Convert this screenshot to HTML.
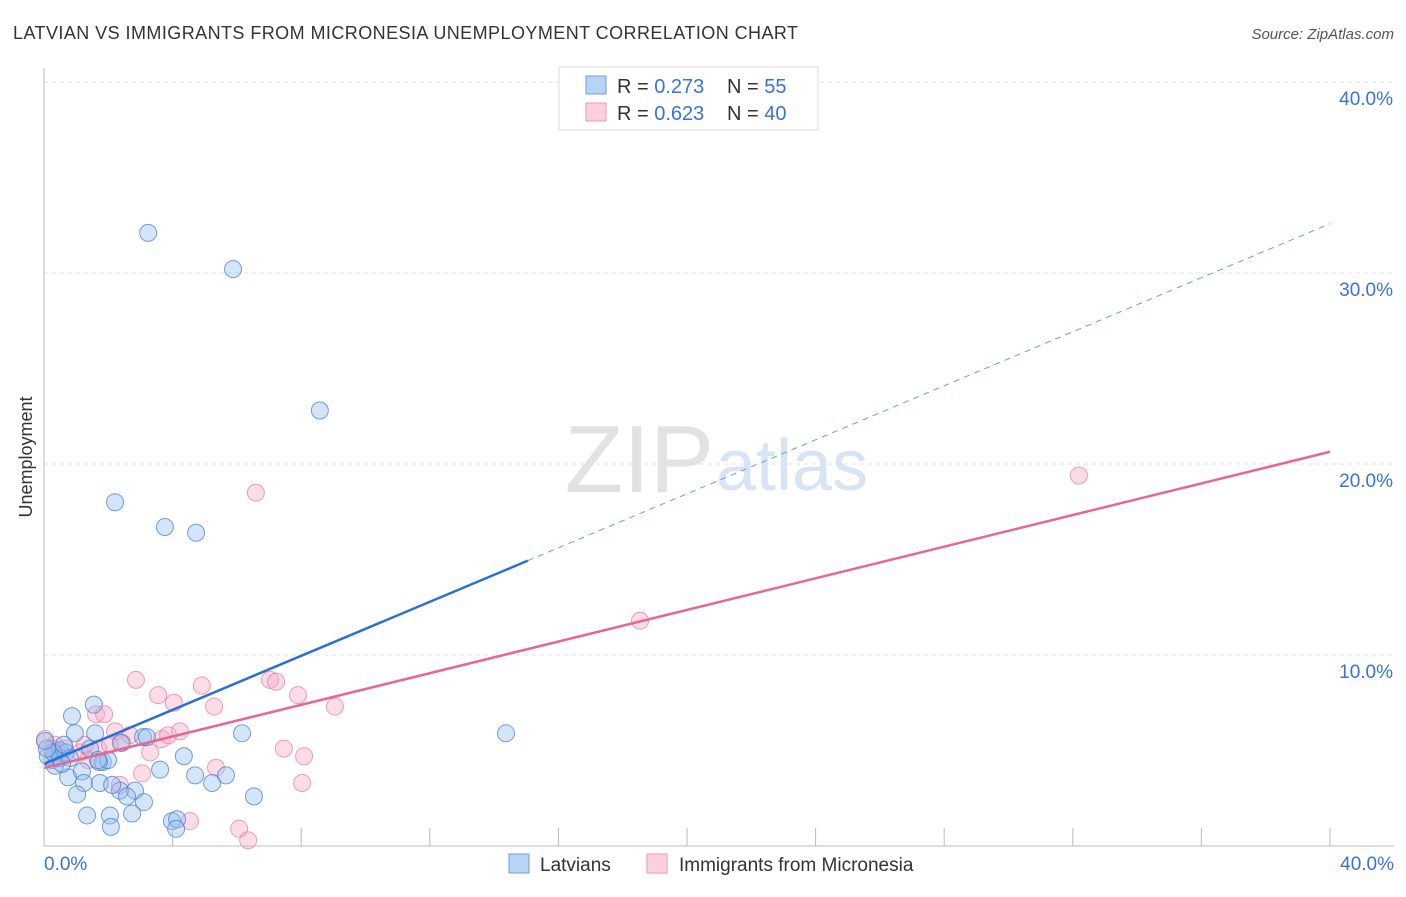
<!DOCTYPE html>
<html><head><meta charset="utf-8"><style>
body{margin:0;background:#fff;font-family:"Liberation Sans",sans-serif;}
svg text{font-family:"Liberation Sans",sans-serif;}
</style></head><body>
<svg width="1406" height="892" xmlns="http://www.w3.org/2000/svg">
<text x="13" y="39" font-size="18" fill="#333" textLength="785">LATVIAN VS IMMIGRANTS FROM MICRONESIA UNEMPLOYMENT CORRELATION CHART</text>
<text x="1394" y="39" font-size="15" fill="#555" font-style="italic" text-anchor="end">Source: ZipAtlas.com</text>
<text x="714" y="492" font-size="96" fill="#e2e2e2" text-anchor="end" font-family="Liberation Serif">ZIP</text>
<text x="716" y="490" font-size="72" fill="#d6e4f5">atlas</text>
<g id="grid"></g>
<g id="marks"></g>
<g id="axes"></g>
<text x="32" y="457" font-size="18" fill="#333" text-anchor="middle" transform="rotate(-90 32 457)">Unemployment</text>
<g>
<rect x="559" y="67" width="259" height="63" fill="#fff" stroke="#ddd"/>
<rect x="586" y="76" width="20" height="18" fill="#b8d4f5" stroke="#6a9fe0"/>
<rect x="586" y="103" width="20" height="18" fill="#fcd0dc" stroke="#ee9ab3"/>
<text x="617" y="93" font-size="20" fill="#333">R = <tspan fill="#3a72d8">0.273</tspan></text>
<text x="727" y="93" font-size="20" fill="#333">N = <tspan fill="#3a72d8">55</tspan></text>
<text x="617" y="120" font-size="20" fill="#333">R = <tspan fill="#3a72d8">0.623</tspan></text>
<text x="727" y="120" font-size="20" fill="#333">N = <tspan fill="#3a72d8">40</tspan></text>
</g>
<g>
<rect x="509" y="854" width="20" height="19" fill="#b8d4f5" stroke="#6a9fe0"/>
<text x="540" y="871" font-size="19" fill="#333">Latvians</text>
<rect x="647" y="854" width="20" height="19" fill="#fcd0dc" stroke="#ee9ab3"/>
<text x="679" y="871" font-size="19" fill="#333">Immigrants from Micronesia</text>
</g>
</svg>
<script>
const yTicks=[10,20,30,40];
const yTickLabels=["10.0%","20.0%","30.0%","40.0%"];
const xTickLabels=["0.0%","40.0%"];
const latX=[3.24,5.88,8.58,2.21,3.76,4.73,14.37,6.16,6.53,0.87,1.55,0.96,1.59,0.50,0.25,0.12,0.34,0.75,1.18,1.24,1.74,1.83,1.99,2.39,3.08,3.20,3.61,4.35,4.70,5.23,5.66,2.83,2.36,2.58,3.11,1.03,1.34,2.05,2.74,2.08,3.98,4.14,4.11,0.50,0.68,0.81,1.43,1.71,0.28,0.09,0.03,0.56,0.62,2.12,1.68];
const latY=[32.1,30.2,22.8,18.0,16.7,16.4,5.9,5.9,2.6,6.8,7.4,5.9,5.9,5.0,4.5,4.7,4.2,3.6,3.9,3.3,3.3,4.4,4.5,5.4,5.7,5.7,4.0,4.7,3.7,3.3,3.7,2.9,2.9,2.6,2.3,2.7,1.6,1.6,1.7,1.0,1.3,1.4,0.9,4.6,4.9,4.6,5.1,4.4,4.9,5.1,5.5,4.3,5.3,3.2,4.5];
const micX=[32.19,6.59,18.54,2.86,3.55,4.04,4.91,5.29,7.03,7.22,7.90,9.05,1.62,1.87,2.21,2.67,2.43,3.30,3.67,3.86,4.23,3.05,5.35,7.46,8.09,8.03,4.54,6.07,6.35,0.03,0.34,0.65,1.12,1.68,1.37,0.50,0.25,2.05,1.27,2.36];
const micY=[19.4,18.5,11.8,8.7,7.9,7.5,8.4,7.3,8.7,8.6,7.9,7.3,6.9,6.9,6.0,5.8,5.4,4.9,5.6,5.8,6.0,3.8,4.1,5.1,4.7,3.3,1.3,0.9,0.3,5.6,5.3,5.1,4.9,5.1,4.5,4.8,5.1,5.3,5.3,3.2];
const latLine={b:4.3,m:0.707,solidTo:15.05};
const micLine={b:4.08,m:0.414};
const X=v=>44+v*32.15, Y=v=>846-v*19.1;
const NS="http://www.w3.org/2000/svg";
function mk(t,a,p){const e=document.createElementNS(NS,t);for(const k in a)e.setAttribute(k,a[k]);p.appendChild(e);return e;}
const grid=document.getElementById('grid'),marks=document.getElementById('marks'),axes=document.getElementById('axes');
yTicks.forEach((t,i)=>{
 const l=mk('line',{x1:44,x2:1394,y1:Y(t),y2:Y(t),stroke:'#e2e2e2','stroke-dasharray':'4,4'},grid);
 
 
 const tx=mk('text',{x:1393,y:Y(t)+23,'font-size':19,fill:'#3a72d8','text-anchor':'end'},axes);
 tx.textContent=yTickLabels[i];
 
 
});
const ax=mk('line',{x1:44,x2:44,y1:68,y2:846,stroke:'#bbb'},axes);


const bx=mk('line',{x1:44,x2:1394,y1:846,y2:846,stroke:'#bbb'},axes);


for(let i=1;i<=10;i++){const x=X(i*4);const t=mk('line',{x1:x,x2:x,y1:828,y2:846,stroke:'#bbb'},axes);
 
 }
[[0,'start',44],[40,'end',1394]].forEach((d,i)=>{const t=mk('text',{x:d[2],y:870,'font-size':19,fill:'#3a72d8','text-anchor':d[1]},axes);t.textContent=xTickLabels[i];
 
 });
micX.forEach((x,i)=>{const c=mk('circle',{cx:X(x),cy:Y(micY[i]),r:8.5,fill:'rgba(248,170,195,0.4)',stroke:'rgba(232,120,155,0.7)','stroke-width':1},marks);
 
 });
latX.forEach((x,i)=>{const c=mk('circle',{cx:X(x),cy:Y(latY[i]),r:8.5,fill:'rgba(150,190,240,0.4)',stroke:'rgba(60,120,210,0.7)','stroke-width':1},marks);
 
 });
const l1=mk('line',{x1:X(0),y1:Y(latLine.b),x2:X(latLine.solidTo),y2:Y(latLine.b+latLine.m*latLine.solidTo),stroke:'#2a6fd8','stroke-width':2.5},marks);


const l2=mk('line',{x1:X(latLine.solidTo),y1:Y(latLine.b+latLine.m*latLine.solidTo),x2:X(40),y2:Y(latLine.b+latLine.m*40),stroke:'#6a9fe0','stroke-width':1,'stroke-dasharray':'6,5'},marks);


const l3=mk('line',{x1:X(0),y1:Y(micLine.b),x2:X(40),y2:Y(micLine.b+micLine.m*40),stroke:'#e8668f','stroke-width':2.5},marks);


</script>
</body></html>
